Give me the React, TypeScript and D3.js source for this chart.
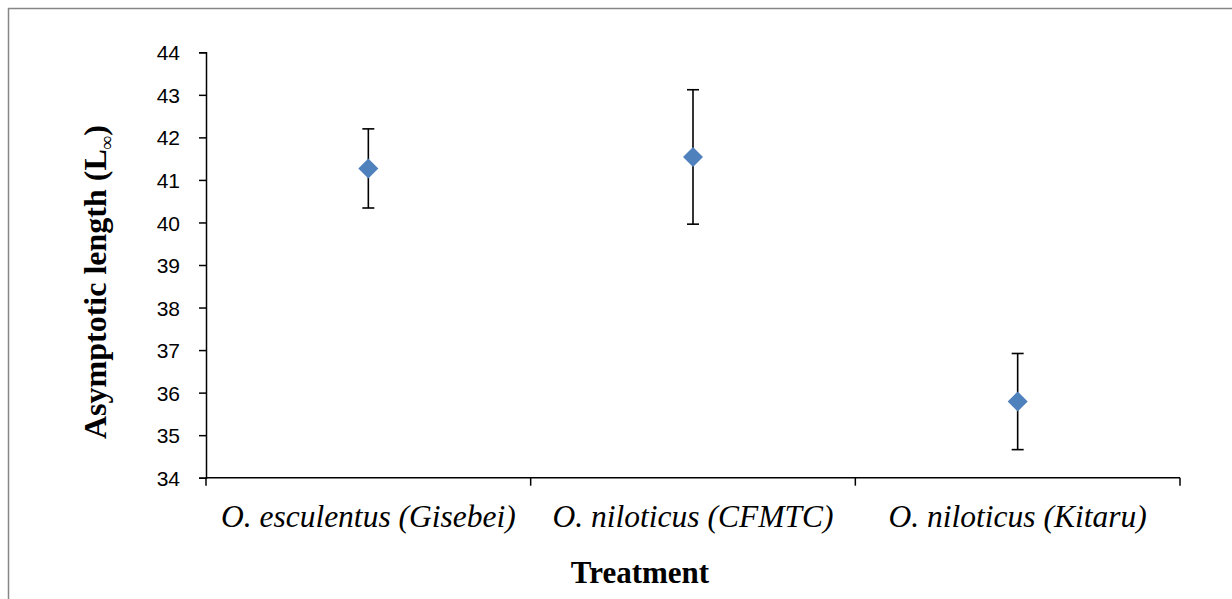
import React, { useEffect, useRef } from 'react';
import * as d3 from 'd3';

const categories = ['O. esculentus (Gisebei)', 'O. niloticus (CFMTC)', 'O. niloticus (Kitaru)'];
const means = [41.27, 41.54, 35.79];
const upper = [42.2, 43.12, 36.92];
const lower = [40.34, 39.96, 34.66];
const yTicks = [34, 35, 36, 37, 38, 39, 40, 41, 42, 43, 44];

const App = () => {
  const svgRef = useRef<SVGSVGElement>(null);

  const width = 1232;
  const height = 599;
  const margin = { top: 52.3, right: 52, bottom: 121.3, left: 206 };

  useEffect(() => {
    if (!svgRef.current) return;
    const svg = d3.select(svgRef.current);
    svg.selectAll('*').remove();

    // chart frame (only top/left visible in the crop)
    svg.append('rect')
      .attr('x', 8.5).attr('y', 8.5)
      .attr('width', 1300).attr('height', 700)
      .attr('fill', 'white')
      .attr('stroke', '#868686')
      .attr('stroke-width', 1.5);

    const x = d3.scaleBand()
      .domain(categories)
      .range([margin.left, width - margin.right]);

    const y = d3.scaleLinear()
      .domain([34, 44])
      .range([height - margin.bottom, margin.top]);

    const bottomY = y(34);

    // y axis
    const yAxis = d3.axisLeft(y).tickValues(yTicks).tickSize(7).tickFormat(d3.format('d'));
    const gy = svg.append('g')
      .attr('transform', `translate(${margin.left},0)`)
      .attr('font-size', 22)
      .attr('font-family', '"Liberation Sans", Arial, sans-serif')
      .call(yAxis);
    gy.select('.domain').attr('stroke', '#000').attr('stroke-width', 1.5);
    gy.selectAll('.tick line').attr('stroke', '#000').attr('stroke-width', 1.5);
    gy.selectAll('.tick text')
      .attr('x', -26)
      .attr('dy', '0.36em')
      .attr('fill', '#000')
      .attr('font-size', 21)
      .attr('font-family', '"Liberation Sans", Arial, sans-serif');

    // x axis with boundary ticks between categories
    svg.append('line')
      .attr('x1', margin.left).attr('x2', width - margin.right)
      .attr('y1', bottomY).attr('y2', bottomY)
      .attr('stroke', '#000').attr('stroke-width', 1.5);
    const bounds = categories.map(c => x(c)!).concat([width - margin.right]);
    svg.selectAll('.xtick')
      .data(bounds)
      .enter()
      .append('line')
      .attr('class', 'xtick')
      .attr('x1', d => d).attr('x2', d => d)
      .attr('y1', bottomY).attr('y2', bottomY + 8)
      .attr('stroke', '#000').attr('stroke-width', 1.5);

    svg.selectAll('.xlabel')
      .data(categories)
      .enter()
      .append('text')
      .attr('class', 'xlabel')
      .attr('x', d => x(d)! + x.bandwidth() / 2)
      .attr('y', 527)
      .attr('text-anchor', 'middle')
      .style('font-family', '"Liberation Serif", "Times New Roman", serif')
      .style('font-style', 'italic')
      .style('font-size', '31.5px')
      .text(d => d);

    // error bars
    const data = categories.map((c, i) => ({ c, m: means[i], hi: upper[i], lo: lower[i] }));
    const cx = (c: string) => x(c)! + x.bandwidth() / 2;
    const g = svg.append('g');
    data.forEach(d => {
      g.append('line')
        .attr('x1', cx(d.c)).attr('x2', cx(d.c))
        .attr('y1', y(d.hi)).attr('y2', y(d.lo))
        .attr('stroke', '#000').attr('stroke-width', 1.6);
      [d.hi, d.lo].forEach(v => {
        g.append('line')
          .attr('x1', cx(d.c) - 6).attr('x2', cx(d.c) + 6)
          .attr('y1', y(v)).attr('y2', y(v))
          .attr('stroke', '#000').attr('stroke-width', 1.6);
      });
    });

    // diamond markers
    const diamond = d3.symbol(d3.symbolSquare, 200);
    g.selectAll('.pt')
      .data(data)
      .enter()
      .append('path')
      .attr('class', 'pt')
      .attr('d', diamond()!)
      .attr('transform', d => `translate(${cx(d.c)},${y(d.m)}) rotate(45)`)
      .attr('fill', '#4F81BD');

    // axis titles
    const yt = svg.append('text')
      .attr('transform', `translate(106,282) rotate(-90)`)
      .attr('text-anchor', 'middle')
      .style('font-family', '"Liberation Serif", "Times New Roman", serif')
      .style('font-weight', 'bold')
      .style('font-size', '32px');
    yt.append('tspan').text('Asymptotic length (L');
    yt.append('tspan').attr('dy', 7).style('font-size', '19px').text('∞');
    yt.append('tspan').attr('dy', -7).text(')');

    svg.append('text')
      .attr('x', 640)
      .attr('y', 583)
      .attr('text-anchor', 'middle')
      .style('font-family', '"Liberation Serif", "Times New Roman", serif')
      .style('font-weight', 'bold')
      .style('font-size', '31px')
      .text('Treatment');
  }, []);

  return (
    <svg
      ref={svgRef}
      width={width}
      height={height}
      style={{ position: 'fixed', left: 0, top: 0, background: 'white' }}
    />
  );
};

export default App;
